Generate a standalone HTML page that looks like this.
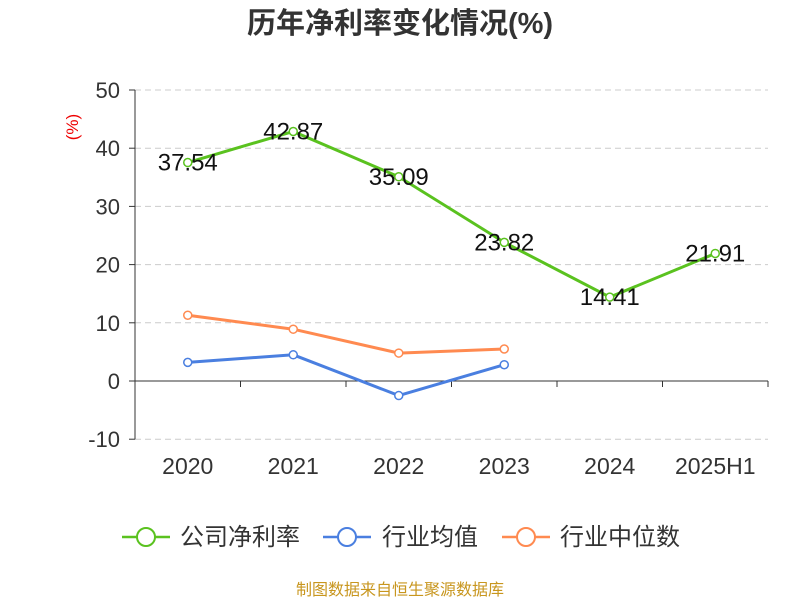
<!DOCTYPE html>
<html><head><meta charset="utf-8"><style>
body{margin:0;background:#fff;font-family:"Liberation Sans","Noto Sans CJK SC",sans-serif}
</style></head><body>
<svg id="c" width="800" height="600" xmlns="http://www.w3.org/2000/svg">
<text x="400" y="33" text-anchor="middle" font-size="29" font-weight="bold" fill="#333">历年净利率变化情况(%)</text>
<text x="78" y="127" font-size="17" fill="#e00" transform="rotate(-90 78 127)" text-anchor="middle">(%)</text>
<g id="grid"></g><g id="series"></g>
<g font-size="24" fill="#333">
<g><line x1="122" y1="537" x2="170" y2="537" stroke="#5ac21f" stroke-width="2.5"/><circle cx="146" cy="537" r="9" fill="#fff" stroke="#5ac21f" stroke-width="2"/><text x="180" y="545">公司净利率</text></g>
<g><line x1="323" y1="537" x2="371" y2="537" stroke="#4a7fe0" stroke-width="2.5"/><circle cx="347" cy="537" r="9" fill="#fff" stroke="#4a7fe0" stroke-width="2"/><text x="382" y="545">行业均值</text></g>
<g><line x1="502" y1="537" x2="550" y2="537" stroke="#ff8a50" stroke-width="2.5"/><circle cx="526" cy="537" r="9" fill="#fff" stroke="#ff8a50" stroke-width="2"/><text x="560" y="545">行业中位数</text></g>
</g>
<text x="400" y="595" text-anchor="middle" font-size="16" fill="#c8961e">制图数据来自恒生聚源数据库</text>
</svg>
<script>
const categories=["2020","2021","2022","2023","2024","2025H1"];
const netMargin=[37.54,42.87,35.09,23.82,14.41,21.91];
const industryAvg=[3.2,4.5,-2.5,2.8];
const industryMedian=[11.3,8.9,4.8,5.5];
const yTicks=[-10,0,10,20,30,40,50];
const NS="http://www.w3.org/2000/svg";
const x0=135,x1=768,bw=(x1-x0)/categories.length;
const xs=i=>x0+bw*(i+0.5);
const ys=v=>381-v*5.82;
const grid=document.getElementById('grid'),ser=document.getElementById('series');
function mk(p,t,a){const e=document.createElementNS(NS,t);for(const k in a)e.setAttribute(k,a[k]);p.appendChild(e);return e;}
yTicks.forEach(v=>{
 if(v!==0){const l=mk(grid,'line',{x1:x0,x2:x1,y1:ys(v),y2:ys(v),stroke:'#ccc','stroke-dasharray':'6,4'});
 
 }
 const t=mk(grid,'text',{x:120,y:ys(v)+8,'text-anchor':'end','font-size':22,fill:'#333'});t.textContent=v;
 
 
 mk(grid,'line',{x1:x0-6,x2:x0,y1:ys(v),y2:ys(v),stroke:'#333'});
});
mk(grid,'line',{x1:x0,x2:x0,y1:ys(50),y2:ys(-10),stroke:'#333'});
const ax=mk(grid,'line',{x1:x0,x2:x1,y1:ys(0),y2:ys(0),stroke:'#333'});


categories.forEach((c,i)=>{
 mk(grid,'line',{x1:x0+bw*(i+1),x2:x0+bw*(i+1),y1:ys(0),y2:ys(0)+6,stroke:'#333'});
 const t=mk(grid,'text',{x:xs(i),y:474,'text-anchor':'middle','font-size':23,fill:'#333'});t.textContent=c;
 
 
});
function series(d,col,name,labels){
 const p=mk(ser,'polyline',{points:d.map((v,i)=>xs(i)+','+ys(v)).join(' '),fill:'none',stroke:col,'stroke-width':3});
 
 
 d.forEach((v,i)=>{
  const c=mk(ser,'circle',{cx:xs(i),cy:ys(v),r:4,fill:'#fff',stroke:col,'stroke-width':1.5});
  
  
  if(labels){const t=mk(ser,'text',{x:xs(i),y:ys(v)+8,'text-anchor':'middle','font-size':24,fill:'#111'});t.textContent=v.toFixed(2);
  
  }
 });
}
series(industryMedian,'#ff8a50','industry-median',false);
series(industryAvg,'#4a7fe0','industry-avg',false);
series(netMargin,'#5ac21f','net-margin',true);
</script>
</body></html>
